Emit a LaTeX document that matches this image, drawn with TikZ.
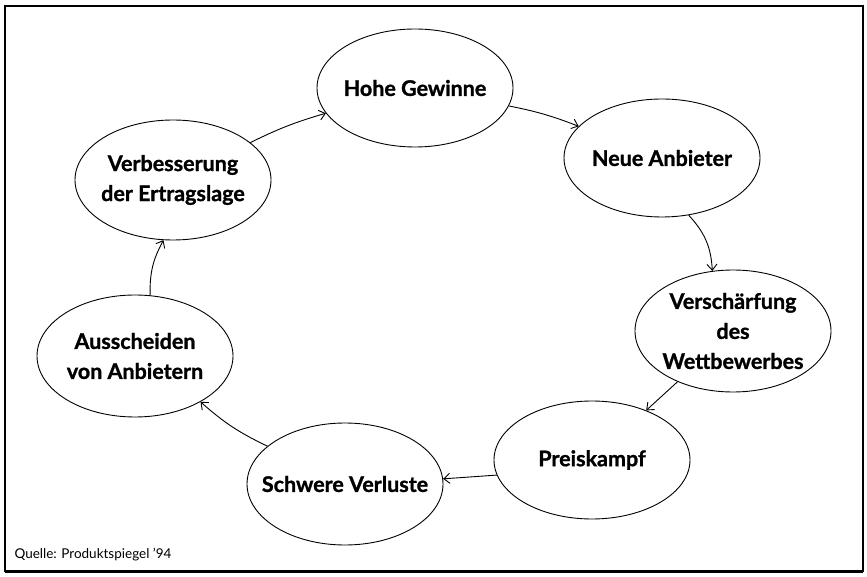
\documentclass[tikz,border=0pt]{standalone}
\usepackage{fontspec}
\setmainfont{Lato}[BoldFeatures={FakeBold=1.2}]
\usetikzlibrary{shapes.geometric,arrows.meta}
\begin{document}
\begin{tikzpicture}[x=1pt,y=1pt,
  bub/.style={draw, ellipse, line width=0.9pt, minimum width=196pt, minimum height=118pt, inner xsep=-30pt, inner ysep=-20pt, align=center, font=\fontsize{21.5}{30}\selectfont\bfseries},
  arr/.style={-{Straight Barb[length=6pt,width=10pt]}, line width=0.9pt}]
\useasboundingbox (0,0) rectangle (867,576);
\draw[line width=1.2pt] (5,5) rectangle (863,570);
\draw[line width=2.5pt] (5,4) -- (863,4);
\node[bub] (hg) at (415,488) {Hohe Gewinne};
\node[bub] (na) at (662,418) {Neue Anbieter};
\node[bub, minimum height=122pt] (vw) at (733,245) {Verschärfung\\des\\Wettbewerbes};
\node[bub] (pk) at (592,116) {Preiskampf};
\node[bub, minimum height=122pt] (sv) at (345,92) {Schwere Verluste};
\node[bub, minimum height=122pt] (av) at (135,220) {Ausscheiden\\von Anbietern};
\node[bub, minimum height=120pt] (ve) at (173,396) {Verbesserung\\der Ertragslage};
\node[anchor=base west, font=\fontsize{13.5}{16}\selectfont] (q) at (11,18) {Quelle: Produktspiegel ’94};
\draw[arr] (ve) to[bend left=5] (hg);
\draw[arr] (hg) to[bend left=5] (na);
\draw[arr] (na.-65) to[bend left=20] (vw.109);
\draw[arr] (vw) -- (pk);
\draw[arr] (pk.189) -- (sv.3);
\draw[arr] (sv.154) to[bend left=8] (av.-35);
\draw[arr] (av.76) to[bend left=15] (ve.261);
\end{tikzpicture}
\end{document}
